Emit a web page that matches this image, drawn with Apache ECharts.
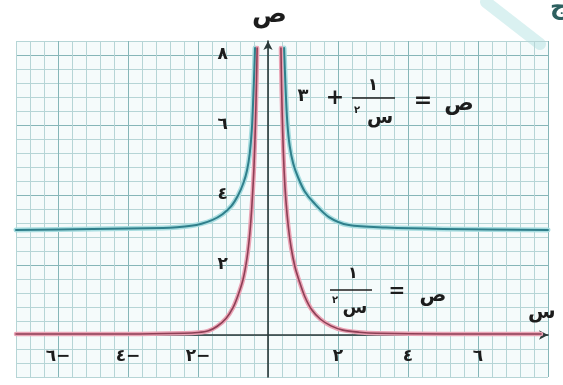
<!DOCTYPE html>
<html>
<head>
<meta charset="utf-8">
<script src="https://cdn.jsdelivr.net/npm/echarts@6/dist/echarts.min.js"></script>
<style>
  html, body { margin: 0; padding: 0; background: #ffffff; }
  #chart { width: 563px; height: 385px; }
</style>
</head>
<body>
<div id="chart"></div>
<script>
// ص = ١/س٢  (red curve), left and right branches
const redLeftX  = [-7.2, -4.0, -2.4, -2.0, -1.7, -1.45, -1.2, -1.0, -0.85, -0.71, -0.6, -0.52, -0.46, -0.4, -0.36, -0.33, -0.31];
const redLeftY  = [0.03, 0.03, 0.05, 0.07, 0.12, 0.25, 0.47, 0.78, 1.15, 1.6, 2.2, 2.9, 3.7, 4.8, 6.0, 7.2, 8.2];
const redRightX = [0.37, 0.39, 0.42, 0.46, 0.51, 0.58, 0.66, 0.77, 0.89, 1.05, 1.25, 1.5, 1.8, 2.14, 2.6, 3.1, 5.0, 7.8];
const redRightY = [8.2, 7.0, 5.8, 4.7, 3.86, 3.1, 2.5, 1.95, 1.55, 1.1, 0.72, 0.45, 0.26, 0.14, 0.08, 0.05, 0.03, 0.03];

// ص = ١/س٢ + ٣  (blue curve), left and right branches
const blueLeftX  = [-7.2, -5.0, -3.0, -2.6, -2.2, -1.9, -1.6, -1.3, -1.05, -0.85, -0.7, -0.6, -0.52, -0.46, -0.42, -0.39, -0.37];
const blueLeftY  = [3.0, 3.03, 3.06, 3.08, 3.12, 3.18, 3.28, 3.45, 3.68, 4.0, 4.35, 4.7, 5.2, 5.9, 6.8, 7.6, 8.2];
const blueRightX = [0.46, 0.5, 0.55, 0.62, 0.72, 0.86, 1.05, 1.29, 1.74, 2.31, 3.37, 5.0, 8.0];
const blueRightY = [8.2, 7.1, 6.1, 5.4, 4.9, 4.5, 4.1, 3.8, 3.37, 3.14, 3.07, 3.03, 3.0];

// tick labels (Arabic-Indic digits)
const xTickValues = [-6, -4, -2, 2, 4, 6];
const xTickLabels = ['٦−', '٤−', '٢−', '٢', '٤', '٦'];
const yTickValues = [2, 4, 6, 8];
const yTickLabels = ['٢', '٤', '٦', '٨'];

// axis ranges of the squared paper (one small square = 0.4)
const xMin = -7.2, xMax = 8, yMin = -1.2, yMax = 8.4, step = 0.4;

// plot box
const gridLeft = 16, gridTop = 41, gridW = 532, gridH = 336;
// shift each axis from the box edge onto the zero line of the other axis
const xAxisOffset = -(0 - yMin) / (yMax - yMin) * gridH;
const yAxisOffset = -(0 - xMin) / (xMax - xMin) * gridW;

const pairs = (xs, ys) => xs.map((x, i) => [x, ys[i]]);

const minorGrid = '#b6d5d6';
const majorGrid = '#86b6b8';
// every fifth line (multiples of 2) is darker; first line sits at -7.2 / -1.2
const gridColors = [minorGrid, minorGrid, minorGrid, majorGrid, minorGrid];

const labelFont = { fontFamily: 'DejaVu Sans', fontWeight: 'bold', fontSize: 17, color: '#1c1c1c' };

function pick(values, labels) {
  return v => {
    const r = Math.round(v * 10) / 10;
    const i = values.indexOf(r);
    return i >= 0 ? labels[i] : '';
  };
}

function curve(name, data, color, width, z) {
  return {
    name, type: 'line', data, smooth: 0.3, showSymbol: false, silent: true,
    lineStyle: { color, width, cap: 'round', join: 'round' }, z
  };
}

const axisLineStyle = { color: '#2c3a3a', width: 1.6 };

const chart = echarts.init(document.getElementById('chart'), null, { renderer: 'canvas' });

chart.setOption({
  animation: false,
  backgroundColor: '#ffffff',
  grid: {
    show: true, left: gridLeft, top: gridTop, width: gridW, height: gridH,
    outerBoundsMode: 'none', containLabel: false,
    backgroundColor: '#f5fbfb', borderWidth: 0
  },
  xAxis: {
    type: 'value', min: xMin, max: xMax, interval: step,
    position: 'bottom', offset: xAxisOffset,
    axisLine: { onZero: false, symbol: ['none', 'arrow'], symbolSize: [7, 9], lineStyle: axisLineStyle },
    axisTick: { show: false },
    axisLabel: { ...labelFont, margin: 13, formatter: pick(xTickValues, xTickLabels) },
    splitLine: { show: true, lineStyle: { color: gridColors, width: 1 } }
  },
  yAxis: {
    type: 'value', min: yMin, max: yMax, interval: step,
    position: 'left', offset: yAxisOffset,
    axisLine: { onZero: false, symbol: ['none', 'arrow'], symbolSize: [7, 9], lineStyle: axisLineStyle },
    axisTick: { show: false },
    axisLabel: { ...labelFont, margin: 40, formatter: pick(yTickValues, yTickLabels) },
    splitLine: { show: true, lineStyle: { color: gridColors, width: 1 } }
  },
  series: [
    curve('blue-halo-l', pairs(blueLeftX, blueLeftY), '#a8dde0', 5, 2),
    curve('blue-halo-r', pairs(blueRightX, blueRightY), '#a8dde0', 5, 2),
    curve('red-halo-l', pairs(redLeftX, redLeftY), '#eaa3b5', 4.5, 3),
    curve('red-halo-r', pairs(redRightX, redRightY), '#eaa3b5', 4.5, 3),
    curve('blue-l', pairs(blueLeftX, blueLeftY), '#2f7f8b', 2, 4),
    curve('blue-r', pairs(blueRightX, blueRightY), '#2f7f8b', 2, 4),
    curve('red-l', pairs(redLeftX, redLeftY), '#8d3f55', 1.6, 5),
    curve('red-r', pairs(redRightX, redRightY), '#8d3f55', 1.6, 5)
  ],
  graphic: [
    // faint stamp stroke in the upper right corner
    { type: 'line', z: 0, shape: { x1: 486, y1: 2, x2: 540, y2: 44 },
      style: { stroke: 'rgba(150, 215, 215, 0.35)', lineWidth: 12, lineCap: 'round' } },

    // axis names
    { type: 'text', left: 252, top: 2, z: 10,
      style: { text: 'ص', font: 'bold 26px "DejaVu Sans"', fill: '#1c1c1c' } },
    { type: 'text', left: 528, top: 303, z: 10,
      style: { text: 'س', font: 'bold 20px "DejaVu Sans"', fill: '#1c1c1c' } },
    // corner letter
    { type: 'text', left: 550, top: -4, z: 10,
      style: { text: 'ج', font: 'bold 24px "DejaVu Sans"', fill: '#2d5f5f' } },

    // ص = ١/س٢ + ٣
    { type: 'text', x: 459, y: 104, z: 10,
      style: { text: 'ص', font: 'bold 22px "DejaVu Sans"', fill: '#1c1c1c', align: 'center', verticalAlign: 'middle' } },
    { type: 'text', x: 423, y: 101, z: 10,
      style: { text: '=', font: 'bold 22px "DejaVu Sans"', fill: '#1c1c1c', align: 'center', verticalAlign: 'middle' } },
    { type: 'text', x: 373, y: 86, z: 10,
      style: { text: '١', font: 'bold 17px "DejaVu Sans"', fill: '#1c1c1c', align: 'center', verticalAlign: 'middle' } },
    { type: 'line', z: 10, shape: { x1: 352, y1: 98, x2: 395, y2: 98 },
      style: { stroke: '#1c1c1c', lineWidth: 1.5 } },
    { type: 'text', x: 380, y: 118, z: 10,
      style: { text: 'س', font: 'bold 19px "DejaVu Sans"', fill: '#1c1c1c', align: 'center', verticalAlign: 'middle' } },
    { type: 'text', x: 357, y: 110, z: 10,
      style: { text: '٢', font: 'bold 10px "DejaVu Sans"', fill: '#1c1c1c', align: 'center', verticalAlign: 'middle' } },
    { type: 'text', x: 335, y: 98, z: 10,
      style: { text: '+', font: 'bold 22px "DejaVu Sans"', fill: '#1c1c1c', align: 'center', verticalAlign: 'middle' } },
    { type: 'text', x: 303, y: 96, z: 10,
      style: { text: '٣', font: 'bold 18px "DejaVu Sans"', fill: '#1c1c1c', align: 'center', verticalAlign: 'middle' } },

    // ص = ١/س٢
    { type: 'text', x: 433, y: 296, z: 10,
      style: { text: 'ص', font: 'bold 20px "DejaVu Sans"', fill: '#1c1c1c', align: 'center', verticalAlign: 'middle' } },
    { type: 'text', x: 397, y: 292, z: 10,
      style: { text: '=', font: 'bold 20px "DejaVu Sans"', fill: '#1c1c1c', align: 'center', verticalAlign: 'middle' } },
    { type: 'text', x: 353, y: 274, z: 10,
      style: { text: '١', font: 'bold 16px "DejaVu Sans"', fill: '#1c1c1c', align: 'center', verticalAlign: 'middle' } },
    { type: 'line', z: 10, shape: { x1: 330, y1: 290, x2: 372, y2: 290 },
      style: { stroke: '#1c1c1c', lineWidth: 1.3 } },
    { type: 'text', x: 355, y: 308, z: 10,
      style: { text: 'س', font: 'bold 18px "DejaVu Sans"', fill: '#1c1c1c', align: 'center', verticalAlign: 'middle' } },
    { type: 'text', x: 335, y: 300, z: 10,
      style: { text: '٢', font: 'bold 10px "DejaVu Sans"', fill: '#1c1c1c', align: 'center', verticalAlign: 'middle' } }
  ]
});
</script>
</body>
</html>
